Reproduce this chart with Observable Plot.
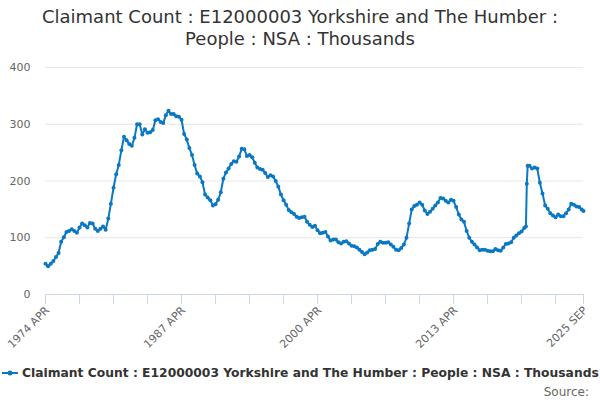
<!DOCTYPE html>
<html>
<head>
<meta charset="utf-8">
<script src="https://cdn.jsdelivr.net/npm/d3@7"></script>
<script src="https://cdn.jsdelivr.net/npm/@observablehq/plot@0.6"></script>
<style>
  body { margin: 0; background: #fff; font-family: "DejaVu Sans", sans-serif; }
  #wrap { width: 600px; height: 400px; position: relative; overflow: hidden; }
  #title { text-align: center; font-size: 18px; line-height: 22px; color: #333; padding-top: 6px; height: 49px; }
  #legend { position: absolute; left: 2px; top: 366px; font-size: 12.3px; font-weight: bold; color: #333; display: flex; align-items: center; white-space: nowrap; }
  #source { position: absolute; right: 11px; top: 385px; font-size: 12px; color: #666; }
</style>
</head>
<body>
<div id="wrap">
  <div id="title">Claimant Count : E12000003 Yorkshire and The Humber :<br>People : NSA : Thousands</div>
  <div id="chart"></div>
  <div id="legend"></div>
  <div id="source">Source:</div>
</div>
<script>
// ----------------- data -----------------
const SERIES = "Claimant Count : E12000003 Yorkshire and The Humber : People : NSA : Thousands";
const BLUE = "#0a78c2";

// quarterly readings (thousands), monthly round the 2020 jump
const dates = [
  "1974-04","1974-07","1974-10","1975-01",
  "1975-04","1975-07","1975-10","1976-01",
  "1976-04","1976-07","1976-10","1977-01",
  "1977-04","1977-07","1977-10","1978-01",
  "1978-04","1978-07","1978-10","1979-01",
  "1979-04","1979-07","1979-10","1980-01",
  "1980-04","1980-07","1980-10","1981-01",
  "1981-04","1981-07","1981-10","1982-01",
  "1982-04","1982-07","1982-10","1983-01",
  "1983-04","1983-07","1983-10","1984-01",
  "1984-04","1984-07","1984-10","1985-01",
  "1985-04","1985-07","1985-10","1986-01",
  "1986-04","1986-07","1986-10","1987-01",
  "1987-04","1987-07","1987-10","1988-01",
  "1988-04","1988-07","1988-10","1989-01",
  "1989-04","1989-07","1989-10","1990-01",
  "1990-04","1990-07","1990-10","1991-01",
  "1991-04","1991-07","1991-10","1992-01",
  "1992-04","1992-07","1992-10","1993-01",
  "1993-04","1993-07","1993-10","1994-01",
  "1994-04","1994-07","1994-10","1995-01",
  "1995-04","1995-07","1995-10","1996-01",
  "1996-04","1996-07","1996-10","1997-01",
  "1997-04","1997-07","1997-10","1998-01",
  "1998-04","1998-07","1998-10","1999-01",
  "1999-04","1999-07","1999-10","2000-01",
  "2000-04","2000-07","2000-10","2001-01",
  "2001-04","2001-07","2001-10","2002-01",
  "2002-04","2002-07","2002-10","2003-01",
  "2003-04","2003-07","2003-10","2004-01",
  "2004-04","2004-07","2004-10","2005-01",
  "2005-04","2005-07","2005-10","2006-01",
  "2006-04","2006-07","2006-10","2007-01",
  "2007-04","2007-07","2007-10","2008-01",
  "2008-04","2008-07","2008-10","2009-01",
  "2009-04","2009-07","2009-10","2010-01",
  "2010-04","2010-07","2010-10","2011-01",
  "2011-04","2011-07","2011-10","2012-01",
  "2012-04","2012-07","2012-10","2013-01",
  "2013-04","2013-07","2013-10","2014-01",
  "2014-04","2014-07","2014-10","2015-01",
  "2015-04","2015-07","2015-10","2016-01",
  "2016-04","2016-07","2016-10","2017-01",
  "2017-04","2017-07","2017-10","2018-01",
  "2018-04","2018-07","2018-10","2019-01",
  "2019-04","2019-07","2019-10","2020-01",
  "2020-03","2020-04","2020-05","2020-07","2020-10","2021-01",
  "2021-04","2021-07","2021-10","2022-01",
  "2022-04","2022-07","2022-10","2023-01",
  "2023-04","2023-07","2023-10","2024-01",
  "2024-04","2024-07","2024-10","2025-01",
  "2025-04","2025-07","2025-09"
];
const counts = [
  54, 50, 54, 59,
  66, 73, 93, 101,
  110, 112, 115, 112,
  109, 118, 125, 122,
  118, 126, 125, 116,
  112, 116, 120, 114,
  134, 160, 188, 212,
  228, 254, 278, 272,
  265, 262, 276, 300,
  300, 282, 291, 285,
  286, 290, 307, 309,
  304, 302, 316, 324,
  318, 318, 314, 313,
  308, 283, 273, 258,
  246, 228, 213, 208,
  198, 176, 171, 166,
  157, 159, 167, 180,
  204, 215, 222, 230,
  235, 234, 243, 257,
  256, 244, 246, 242,
  232, 224, 221, 220,
  214, 207, 210, 208,
  200, 190, 176, 166,
  158, 149, 145, 142,
  137, 135, 136, 137,
  128, 123, 119, 121,
  113, 108, 109, 110,
  102, 95, 97, 97,
  92, 90, 93, 94,
  90, 86, 85, 83,
  79, 75, 71, 74,
  78, 79, 80, 89,
  93, 91, 91, 92,
  88, 84, 79, 78,
  82, 88, 100, 125,
  150, 156, 158, 162,
  158, 148, 142, 146,
  151, 157, 162, 170,
  169, 165, 162, 167,
  165, 154, 141, 132,
  128, 112, 100, 93,
  88, 83, 78, 79,
  79, 77, 76, 76,
  80, 78, 77, 83,
  89, 90, 92, 100,
  104, 108, 111, 117,
  120, 195, 227, 227, 222, 224,
  222, 197, 178, 157,
  151, 143, 139, 136,
  141, 138, 138, 143,
  150, 160, 158, 155,
  154, 150, 147
];
const yTicks = [0, 100, 200, 300, 400];
const labelDates = ["1974-04", "1987-04", "2000-04", "2013-04", "2025-09"];
const TICK_STEP = 39; // months between category ticks

// --------------- helpers -----------------
const parse = d3.utcParse("%Y-%m");
const fmtLabel = d => d3.utcFormat("%Y %b")(d).toUpperCase();

const series = dates.map((d, i) => ({ date: parse(d), value: counts[i] }));
const start = parse(dates[0]), end = parse(dates[dates.length - 1]);

// tick marks every 39 months from the first category, plus the last one
const tickDates = [];
for (let t = start; t < end; t = d3.utcMonth.offset(t, TICK_STEP)) tickDates.push(t);
tickDates.push(end);

// --------------- chart -----------------
const fig = Plot.plot({
  width: 600, height: 300,
  marginTop: 12, marginLeft: 45, marginRight: 17, marginBottom: 61,
  style: { fontFamily: "DejaVu Sans", fontSize: "11px", color: "#666", background: "white" },
  x: { type: "utc", domain: [start, end], label: null },
  y: { domain: [0, 400], label: null },
  marks: [
    Plot.gridY(yTicks.slice(1), { stroke: "#e6e6e6", strokeOpacity: 1 }),
    Plot.ruleY([0], { stroke: "#ccd6eb" }),
    Plot.axisY(yTicks, { tickSize: 0, tickPadding: 15, fill: "#666" }),
    Plot.axisX(tickDates, { tickSize: 10, stroke: "#ccd6eb", tickFormat: () => "" }),
    Plot.axisX(labelDates.map(parse), { tickSize: 0, tickPadding: 14, dx: 2, tickRotate: -45, tickFormat: fmtLabel, fill: "#666" }),
    Plot.line(series, { x: "date", y: "value", stroke: BLUE, strokeWidth: 2 }),
    Plot.dot(series, { x: "date", y: "value", r: 2, fill: BLUE })
  ]
});
document.getElementById("chart").appendChild(fig);

// legend
const lg = document.getElementById("legend");
lg.innerHTML = `<svg width="18" height="10" style="margin-right:2px"><line x1="0" x2="16" y1="5" y2="5" stroke="${BLUE}" stroke-width="2"/><circle cx="8" cy="5" r="2.5" fill="${BLUE}"/></svg><span>${SERIES}</span>`;
</script>
</body>
</html>
